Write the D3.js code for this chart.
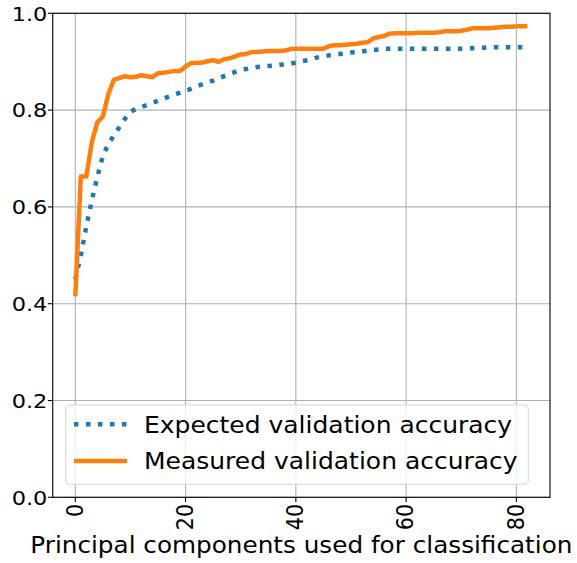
<!DOCTYPE html>
<html>
<head>
<meta charset="utf-8">
<script src="https://cdn.jsdelivr.net/npm/d3@7"></script>
<style>
    body { margin: 0; background: #fff; }
    text { font-family: "DejaVu Sans", sans-serif; fill: #000; }
</style>
</head>
<body>
<svg id="chart" width="577" height="563"></svg>
<script>

// Accuracy vs number of principal components (0..82)
var expected = [
    0.450, 0.500, 0.560, 0.614, 0.662, 0.706, 0.730, 0.748, 0.765, 0.782,
    0.797, 0.802, 0.806, 0.811, 0.815, 0.819, 0.824, 0.828, 0.832, 0.836,
    0.840, 0.844, 0.849, 0.853, 0.857, 0.861, 0.866, 0.870, 0.874, 0.879,
    0.883, 0.885, 0.887, 0.889, 0.890, 0.891, 0.892, 0.893, 0.895, 0.896,
    0.898, 0.901, 0.903, 0.906, 0.909, 0.911, 0.913, 0.915, 0.916, 0.917,
    0.919, 0.920, 0.921, 0.923, 0.924, 0.925, 0.927, 0.927, 0.927, 0.927,
    0.927, 0.927, 0.927, 0.927, 0.927, 0.927, 0.927, 0.927, 0.927, 0.927,
    0.927, 0.928, 0.928, 0.929, 0.929, 0.930, 0.930, 0.930, 0.930, 0.930,
    0.930, 0.930, 0.930
];

var measured = [
    0.415, 0.663, 0.663, 0.734, 0.775, 0.787, 0.833, 0.863, 0.866, 0.870,
    0.868, 0.869, 0.872, 0.870, 0.868, 0.876, 0.877, 0.879, 0.881, 0.881,
    0.890, 0.897, 0.898, 0.898, 0.901, 0.903, 0.900, 0.905, 0.907, 0.911,
    0.915, 0.916, 0.920, 0.920, 0.921, 0.922, 0.922, 0.922, 0.923, 0.926,
    0.927, 0.927, 0.927, 0.927, 0.927, 0.927, 0.932, 0.934, 0.934, 0.935,
    0.936, 0.937, 0.939, 0.940, 0.948, 0.951, 0.953, 0.958, 0.959, 0.959,
    0.959, 0.959, 0.960, 0.960, 0.960, 0.960, 0.961, 0.963, 0.963, 0.963,
    0.964, 0.966, 0.969, 0.969, 0.969, 0.969, 0.970, 0.971, 0.972, 0.972,
    0.973, 0.973, 0.973
];

var x_ticks = [0, 20, 40, 60, 80],
    y_ticks = [0.0, 0.2, 0.4, 0.6, 0.8, 1.0];

var series = [
    { label: 'Expected validation accuracy', values: expected, color: '#1f77b4', dash: '4.5,7.5' },
    { label: 'Measured validation accuracy', values: measured, color: '#ff7f0e', dash: null }
];

var svg = d3.select('#chart');

var plot_left = 52.7,
    plot_right = 550,
    plot_top = 13.3,
    plot_bottom = 497.3,
    squash = 'scale(1,0.9)';

var x = d3.scaleLinear()
    .domain([-4.1, 86.1])
    .range([plot_left, plot_right]);

var y = d3.scaleLinear()
    .domain([0, 1])
    .range([plot_bottom, plot_top]);

// Grid
var grid = svg.append('g')
    .attr('stroke', '#b0b0b0')
    .attr('stroke-width', 1.1);

grid.selectAll('line.gx')
    .data(x_ticks)
    .enter()
    .append('line')
    .attr('x1', function (d) { return x(d); })
    .attr('x2', function (d) { return x(d); })
    .attr('y1', plot_top)
    .attr('y2', plot_bottom);

grid.selectAll('line.gy')
    .data(y_ticks)
    .enter()
    .append('line')
    .attr('x1', plot_left)
    .attr('x2', plot_right)
    .attr('y1', function (d) { return y(d); })
    .attr('y2', function (d) { return y(d); });

// Lines
var line = d3.line()
    .x(function (d, i) { return x(i); })
    .y(function (d) { return y(d); });

svg.selectAll('path.series')
    .data(series)
    .enter()
    .append('path')
    .attr('class', 'series')
    .attr('fill', 'none')
    .attr('stroke', function (d) { return d.color; })
    .attr('stroke-width', 4.5)
    .attr('stroke-linejoin', 'round')
    .attr('stroke-dasharray', function (d) { return d.dash; })
    .attr('d', function (d) { return line(d.values); });

// Frame
svg.append('rect')
    .attr('x', plot_left)
    .attr('y', plot_top)
    .attr('width', plot_right - plot_left)
    .attr('height', plot_bottom - plot_top)
    .attr('fill', 'none')
    .attr('stroke', '#000')
    .attr('stroke-width', 1.1);

// Y axis ticks
var yt = svg.selectAll('g.ytick')
    .data(y_ticks)
    .enter()
    .append('g')
    .attr('transform', function (d) { return 'translate(0,' + y(d) + ')'; });

yt.append('line')
    .attr('x1', plot_left - 4.8)
    .attr('x2', plot_left)
    .attr('stroke', '#000')
    .attr('stroke-width', 1.1);

yt.append('text')
    .attr('transform', 'translate(' + (plot_left - 5.3) + ',0) ' + squash)
    .attr('text-anchor', 'end')
    .attr('dy', '0.36em')
    .style('font-size', '22.5px')
    .text(function (d) { return d3.format('.1f')(d); });

// X axis ticks
var xt = svg.selectAll('g.xtick')
    .data(x_ticks)
    .enter()
    .append('g')
    .attr('transform', function (d) { return 'translate(' + x(d) + ',0)'; });

xt.append('line')
    .attr('y1', plot_bottom)
    .attr('y2', plot_bottom + 4.8)
    .attr('stroke', '#000')
    .attr('stroke-width', 1.1);

xt.append('text')
    .attr('transform', 'translate(-1,' + (plot_bottom + 6.5) + ') ' + squash + ' rotate(-90)')
    .attr('text-anchor', 'end')
    .attr('dy', '0.36em')
    .style('font-size', '23px')
    .text(function (d) { return d; });

// Axis label
svg.append('text')
    .attr('transform', 'translate(' + ((plot_left + plot_right) / 2) + ',552.7) ' + squash)
    .attr('text-anchor', 'middle')
    .style('font-size', '24.7px')
    .text('Principal components used for classification');

// Legend
var legend = svg.append('g');

legend.append('rect')
    .attr('x', 65.7)
    .attr('y', 405)
    .attr('width', 528.3 - 65.7)
    .attr('height', 484.3 - 405)
    .attr('rx', 4)
    .attr('fill', '#fff')
    .attr('fill-opacity', 0.8)
    .attr('stroke', '#d6d6d6')
    .attr('stroke-width', 1.1);

var entries = legend.selectAll('g.entry')
    .data(series)
    .enter()
    .append('g')
    .attr('transform', function (d, i) { return 'translate(0,' + (424.3 + i * 36.7) + ')'; });

entries.append('line')
    .attr('x1', 74)
    .attr('x2', 127)
    .attr('stroke', function (d) { return d.color; })
    .attr('stroke-width', 4.5)
    .attr('stroke-dasharray', function (d) { return d.dash; });

entries.append('text')
    .attr('transform', 'translate(144,8.4) ' + squash)
    .style('font-size', '25px')
    .text(function (d) { return d.label; });

</script>
</body>
</html>
